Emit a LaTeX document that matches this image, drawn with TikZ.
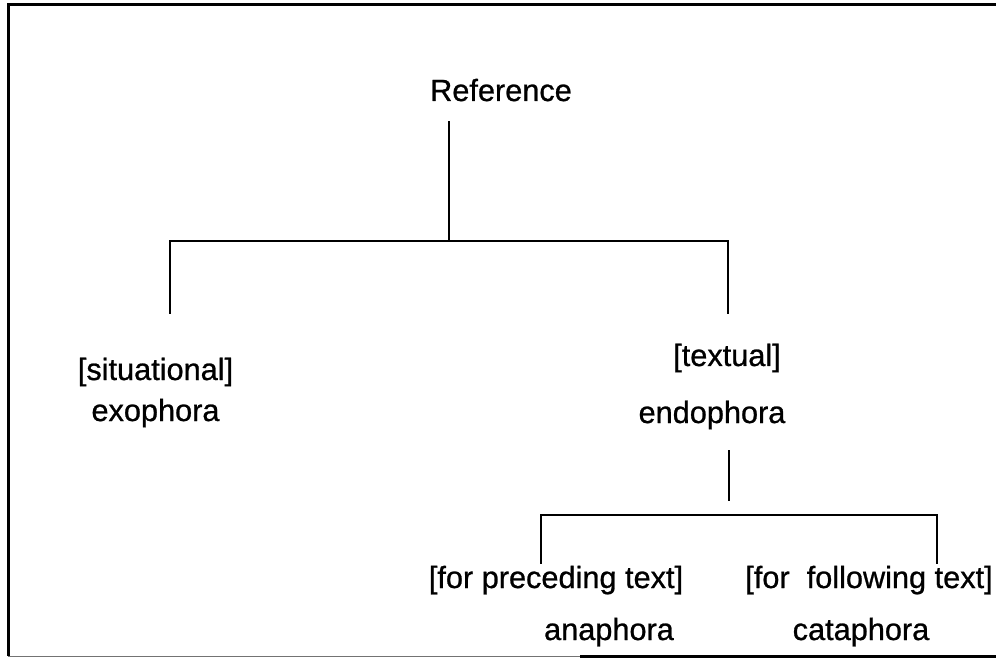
\documentclass[tikz,border=0pt]{standalone}
\usepackage{fontspec}
\setmainfont{Liberation Sans}
\newfontfamily\heavyfont[FakeBold=0.8]{Liberation Sans}
\begin{document}
\begin{tikzpicture}[x=1pt,y=-1pt,
  lbl/.style={font=\heavyfont\fontsize{30.7pt}{36pt}\selectfont, inner sep=0pt, anchor=base},
  branch/.style={line width=2.4pt, line cap=rect},
  frameline/.style={line width=3pt}]
\useasboundingbox (0,0) rectangle (996,660);

% outer frame (open on the right)
\coordinate (ftl) at (8,5);
\coordinate (ftr) at (996,5);
\coordinate (fbl) at (8,656);
\coordinate (fbr) at (996,656);
\draw[frameline] (ftr) -- (ftl) -- (fbl);
\draw[line width=1pt, black!55] (fbl) -- (580,656);
\draw[frameline] (580,656) -- (fbr);

% labels
\node[lbl] (ref)  at (501,101) {Reference};
\node[lbl] (sit)  at (155.5,380) {[situational]};
\node[lbl] (exo)  at (155.5,421) {exophora};
\node[lbl] (txt)  at (727,366) {[textual]};
\node[lbl] (endo) at (712,423) {endophora};
\node[lbl] (prec) at (556,588) {[for preceding text]};
\node[lbl] (ana)  at (609,640) {anaphora};
\node[lbl] (foll) at (869,588) {[for\ \ following text]};
\node[lbl] (cata) at (861,640) {cataphora};

% first level of the tree
\coordinate (reftop) at (449,122);
\coordinate (barA)   at (449,241);
\coordinate (barL)   at (170,241);
\coordinate (barR)   at (728,241);
\coordinate (dropL)  at (170,313);
\coordinate (dropR)  at (728,313);
\draw[branch] (reftop) -- (barA);
\draw[branch] (dropL) -- (barL) -- (barR) -- (dropR);

% second level under endophora
\coordinate (endotop) at (729,451);
\coordinate (endobot) at (729,500);
\coordinate (barBL)   at (541,515);
\coordinate (barBR)   at (937,515);
\coordinate (dropBL)  at (541,563);
\coordinate (dropBR)  at (937,563);
\draw[branch] (endotop) -- (endobot);
\draw[branch] (dropBL) -- (barBL) -- (barBR) -- (dropBR);
\end{tikzpicture}
\end{document}
